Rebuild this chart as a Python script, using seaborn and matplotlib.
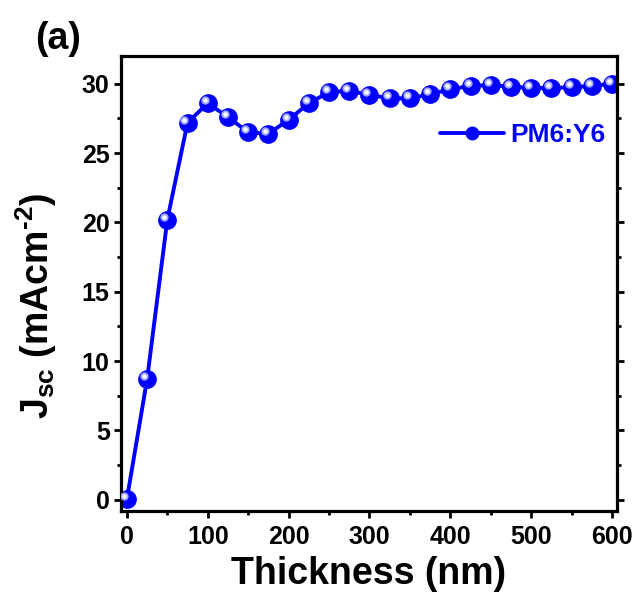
import numpy as np
import pandas as pd
import seaborn as sns
import matplotlib
matplotlib.use("Agg")
import matplotlib.pyplot as plt
from matplotlib.ticker import MultipleLocator
from matplotlib.transforms import offset_copy
from matplotlib.lines import Line2D

thickness = [0, 25, 50, 75, 100, 125, 150, 175, 200, 225, 250, 275, 300,
             325, 350, 375, 400, 425, 450, 475, 500, 525, 550, 575, 600]
jsc = [0.05, 8.7, 20.2, 27.2, 28.6, 27.6, 26.5, 26.4, 27.4, 28.6, 29.4, 29.5, 29.2,
       28.95, 28.95, 29.25, 29.6, 29.85, 29.9, 29.8, 29.7, 29.7, 29.75, 29.85, 30.0]
series_label = "PM6:Y6"

df = pd.DataFrame({"Thickness": thickness, "Jsc": jsc})

sns.set_style("ticks")
plt.rcParams['font.family'] = ['Liberation Sans', 'DejaVu Sans']
plt.rcParams['font.weight'] = 'bold'
plt.rcParams['text.color'] = 'black'
plt.rcParams['axes.labelcolor'] = 'black'
plt.rcParams['xtick.color'] = 'black'
plt.rcParams['ytick.color'] = 'black'
plt.rcParams['axes.unicode_minus'] = False
plt.rcParams['mathtext.fontset'] = 'custom'
plt.rcParams['mathtext.bf'] = 'Liberation Sans:bold'
plt.rcParams['mathtext.rm'] = 'Liberation Sans:bold'
plt.rcParams['mathtext.it'] = 'Liberation Sans:bold'

fig = plt.figure(figsize=(6.36, 6.03), dpi=100)
ax = fig.add_axes([0.190, 0.153, 0.780, 0.754])

blue = '#0000ff'
sns.lineplot(data=df, x="Thickness", y="Jsc", ax=ax, color=blue, linewidth=2.8,
             marker='o', markersize=13.5, markeredgewidth=0, markerfacecolor=blue)
# sphere highlight
hl = offset_copy(ax.transData, fig=fig, x=-2.2, y=2.2, units='points')
ax.plot(thickness, jsc, linestyle='none', marker='o', markersize=6,
        markerfacecolor='#9ea6ff', markeredgewidth=0, transform=hl, zorder=5)
ax.plot(thickness, jsc, linestyle='none', marker='o', markersize=3.2,
        markerfacecolor='#ffffff', markeredgewidth=0, transform=hl, zorder=6)

ax.set_xlim(-7.5, 606)
ax.set_ylim(-0.8, 32)
ax.xaxis.set_major_locator(MultipleLocator(100))
ax.xaxis.set_minor_locator(MultipleLocator(50))
ax.yaxis.set_major_locator(MultipleLocator(5))
ax.yaxis.set_minor_locator(MultipleLocator(2.5))

for s in ax.spines.values():
    s.set_linewidth(2.3)
    s.set_visible(True)
    s.set_color('black')

ax.tick_params(which='major', direction='out', length=5, width=2, labelsize=18,
               colors='black', pad=3)
ax.tick_params(axis='x', which='major', pad=5)
ax.tick_params(which='minor', direction='out', length=3, width=2)
ax.tick_params(axis='y', which='both', right=True, labelright=False)
for lab in ax.get_xticklabels() + ax.get_yticklabels():
    lab.set_fontweight('bold')

ax.set_xlabel("Thickness (nm)", fontsize=27, fontweight='bold', labelpad=5,
              color='black')
ax.set_ylabel("$\\mathbf{J_{sc}}$ (mAcm$^{\\mathbf{\u20102}}$)", fontsize=27,
              fontweight='bold', color='black')
ax.yaxis.set_label_coords(-0.125, 0.45)

handle = Line2D([], [], color=blue, linewidth=2.8, marker='o', markersize=10,
                markeredgewidth=0)
leg = ax.legend([handle], [series_label], loc='center right',
                bbox_to_anchor=(0.998, 0.826), frameon=False,
                handlelength=2.45, handletextpad=0.22, borderaxespad=0,
                prop={'weight': 'bold', 'size': 19})
for t in leg.get_texts():
    t.set_color(blue)

fig.text(0.056, 0.935, "(a)", fontsize=27, fontweight='bold', ha='left',
         va='center', color='black')

fig.savefig("out.png", dpi=100)
